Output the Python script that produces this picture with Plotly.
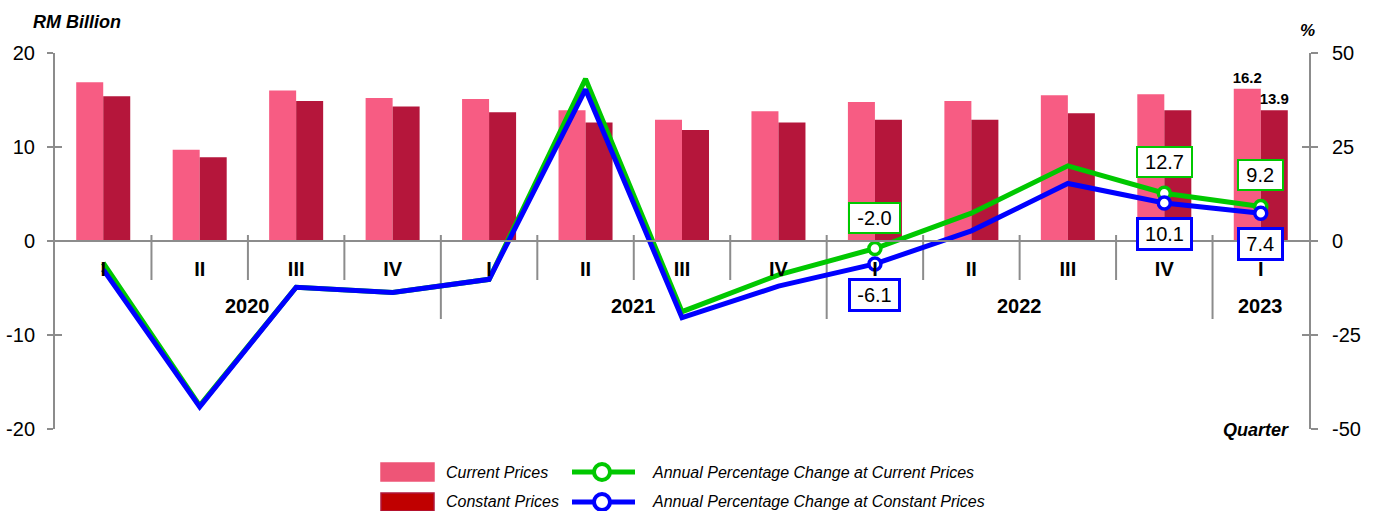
import plotly.graph_objects as go

# Quarterly values, 2020 Q1 to 2023 Q1
quarters = ["I", "II", "III", "IV", "I", "II", "III", "IV", "I", "II", "III", "IV", "I"]
years = ["2020"] * 4 + ["2021"] * 4 + ["2022"] * 4 + ["2023"]
current_prices = [16.9, 9.7, 16.0, 15.2, 15.1, 13.9, 12.9, 13.8, 14.8, 14.9, 15.5, 15.6, 16.2]
constant_prices = [15.4, 8.9, 14.9, 14.3, 13.7, 12.6, 11.8, 12.6, 12.9, 12.9, 13.6, 13.9, 13.9]
pct_current = [-5.8, -43.8, -12.3, -13.7, -10.2, 43.1, -18.8, -9.0, -2.0, 7.4, 20.0, 12.7, 9.2]
pct_constant = [-7.6, -44.1, -12.3, -13.7, -10.2, 40.3, -20.4, -12.0, -6.1, 2.7, 15.3, 10.1, 7.4]
labelled_points = [8, 11, 12]
labelled_bars = [12]
left_ticks = [-20, -10, 0, 10, 20]
right_ticks = [-50, -25, 0, 25, 50]

FONT = "Liberation Sans, Arial, sans-serif"
PINK = "#F75C83"
CRIMSON = "#B5163B"
GREEN = "#00C800"
BLUE = "#0000FF"
GREY = "#8C8C8C"

W, H = 1378, 511
ML, MR, MT, MB = 55, 69, 53, 82
PW, PH = W - ML - MR, H - MT - MB


def px_x(px):
    return (px - ML) / PW


def px_y(py):
    return (H - MB - py) / PH


x = list(range(len(quarters)))

fig = go.Figure()

bar_text_font = dict(family=FONT, size=15, color="black", weight="bold")
fig.add_trace(go.Bar(
    x=x, y=current_prices, name="Current Prices", marker_color=PINK,
    marker_line_width=0,
    text=[f"{v:.1f}" if i in labelled_bars else "" for i, v in enumerate(current_prices)],
    textposition="outside", textfont=bar_text_font, constraintext="none",
    cliponaxis=False,
))
fig.add_trace(go.Bar(
    x=x, y=constant_prices, name="Constant Prices", marker_color=CRIMSON,
    marker_line_width=0,
    text=[f"{v:.1f}" if i in labelled_bars else "" for i, v in enumerate(constant_prices)],
    textposition="outside", textfont=bar_text_font, constraintext="none",
    cliponaxis=False,
))

for vals, col in ((pct_current, GREEN), (pct_constant, BLUE)):
    fig.add_trace(go.Scatter(
        x=x, y=vals, yaxis="y2", mode="lines+markers",
        line=dict(color=col, width=5),
        marker=dict(size=12, color="white", line=dict(color=col, width=3.5),
                    opacity=[1 if i in labelled_points else 0 for i in x]),
        cliponaxis=False,
    ))

annotations = []
shapes = []


def box_width(t):
    return sum(6.5 if c == "-" else 5.5 if c == "." else 10.5 for c in t) + 10


# Value boxes on the percentage lines
for i in labelled_points:
    t = f"{pct_current[i]:.1f}"
    annotations.append(dict(
        x=i, y=pct_current[i], xref="x", yref="y2", text=t, showarrow=False,
        yshift=31, font=dict(family=FONT, size=20, color="black"),
        bgcolor="white", bordercolor=GREEN, borderwidth=2, borderpad=3,
        width=box_width(t)))
    t = f"{pct_constant[i]:.1f}"
    annotations.append(dict(
        x=i, y=pct_constant[i], xref="x", yref="y2", text=t, showarrow=False,
        yshift=-31, font=dict(family=FONT, size=20, color="black"),
        bgcolor="white", bordercolor=BLUE, borderwidth=3, borderpad=3,
        width=box_width(t) - 2))

# Year labels and dividers under the quarter axis
year_names = []
for y in years:
    if y not in year_names:
        year_names.append(y)
for yr in year_names:
    idx = [i for i, y in enumerate(years) if y == yr]
    annotations.append(dict(
        x=sum(idx) / len(idx), y=px_y(306), xref="x", yref="paper", text=yr,
        showarrow=False, yanchor="middle",
        font=dict(family=FONT, size=20, color="black", weight="bold")))

for i in range(len(quarters) - 1):
    year_break = years[i] != years[i + 1]
    shapes.append(dict(
        type="line", xref="x", yref="paper", x0=i + 0.5, x1=i + 0.5,
        y0=px_y(235), y1=px_y(319 if year_break else 280),
        line=dict(color=GREY, width=2), layer="below"))

# Axis titles
annotations += [
    dict(x=px_x(31), y=px_y(22), xref="paper", yref="paper", text="RM Billion",
         showarrow=False, xanchor="left", yanchor="middle",
         font=dict(family=FONT, size=18, color="black", weight="bold", style="italic")),
    dict(x=px_x(1307), y=px_y(31), xref="paper", yref="paper", text="%",
         showarrow=False, xanchor="center", yanchor="middle",
         font=dict(family=FONT, size=17, color="black", weight="bold", style="italic")),
    dict(x=px_x(1291), y=px_y(430), xref="paper", yref="paper", text="Quarter",
         showarrow=False, xanchor="right", yanchor="middle",
         font=dict(family=FONT, size=18, color="black", weight="bold", style="italic")),
]

# Legend
legend_font = dict(family=FONT, size=16, color="black", style="italic")
rows = [
    (472, "#EE5577", "#EE5577", "Current Prices", GREEN, "Annual Percentage Change at Current Prices"),
    (502, "#C00000", "#B0173B", "Constant Prices", BLUE, "Annual Percentage Change at Constant Prices"),
]
for cy, fill, edge, label, lcol, llabel in rows:
    shapes.append(dict(type="rect", xref="paper", yref="paper",
                       x0=px_x(381), x1=px_x(434), y0=px_y(cy - 9), y1=px_y(cy + 9),
                       fillcolor=fill, line=dict(color=edge, width=1.5)))
    annotations.append(dict(x=px_x(444), y=px_y(cy), xref="paper", yref="paper",
                            text=label, showarrow=False, xanchor="left",
                            yanchor="middle", font=legend_font))
    shapes.append(dict(type="line", xref="paper", yref="paper",
                       x0=px_x(572), x1=px_x(635), y0=px_y(cy), y1=px_y(cy),
                       line=dict(color=lcol, width=5)))
    shapes.append(dict(type="circle", xref="paper", yref="paper",
                       x0=px_x(594), x1=px_x(610), y0=px_y(cy - 8), y1=px_y(cy + 8),
                       fillcolor="white", line=dict(color=lcol, width=4)))
    annotations.append(dict(x=px_x(650), y=px_y(cy), xref="paper", yref="paper",
                            text=llabel, showarrow=False, xanchor="left",
                            yanchor="middle", font=legend_font))

tick_font = dict(family=FONT, size=20, color="black")

fig.update_layout(
    width=W, height=H, autosize=False,
    margin=dict(l=ML, r=MR, t=MT, b=MB, pad=0, autoexpand=False),
    plot_bgcolor="white", paper_bgcolor="white",
    barmode="group", bargap=0.44, bargroupgap=0,
    showlegend=False,
    xaxis=dict(
        range=[-0.5, len(quarters) - 0.5], tickvals=x, ticktext=quarters,
        tickfont=dict(family=FONT, size=20, color="black", weight="bold"),
        ticks="", ticklabelstandoff=10, automargin=False,
        anchor="free", position=0.5,
        showline=True, linecolor=GREY, linewidth=2,
        showgrid=False, zeroline=False, fixedrange=True,
    ),
    yaxis=dict(
        range=[-20, 20], tickvals=left_ticks, ticktext=[str(v) for v in left_ticks],
        tickfont=tick_font, automargin=False,
        ticks="outside", ticklen=6, tickwidth=2, tickcolor=GREY,
        ticklabelstandoff=8,
        showline=True, linecolor=GREY, linewidth=2,
        showgrid=False, zeroline=False,
    ),
    yaxis2=dict(
        range=[-50, 50], tickvals=right_ticks, ticktext=[str(v) for v in right_ticks],
        tickfont=tick_font, overlaying="y", side="right", automargin=False,
        ticks="outside", ticklen=7, tickwidth=2, tickcolor=GREY,
        ticklabelstandoff=10,
        showline=True, linecolor=GREY, linewidth=2,
        showgrid=False, zeroline=False,
    ),
    yaxis3=dict(
        range=[-20, 20], tickvals=left_ticks, overlaying="y", side="left", anchor="x",
        ticks="inside", ticklen=7, tickwidth=2, tickcolor=GREY, automargin=False,
        showticklabels=False, showline=False, showgrid=False, zeroline=False,
    ),
    yaxis4=dict(
        range=[-50, 50], tickvals=right_ticks, overlaying="y", side="right", anchor="x",
        ticks="inside", ticklen=7, tickwidth=2, tickcolor=GREY, automargin=False,
        showticklabels=False, showline=False, showgrid=False, zeroline=False,
    ),
    annotations=annotations,
    shapes=shapes,
)

# Empty traces so the inner tick axes are drawn
fig.add_trace(go.Scatter(x=[None], y=[None], yaxis="y3", showlegend=False, hoverinfo="skip"))
fig.add_trace(go.Scatter(x=[None], y=[None], yaxis="y4", showlegend=False, hoverinfo="skip"))

fig.write_html("out.html")
